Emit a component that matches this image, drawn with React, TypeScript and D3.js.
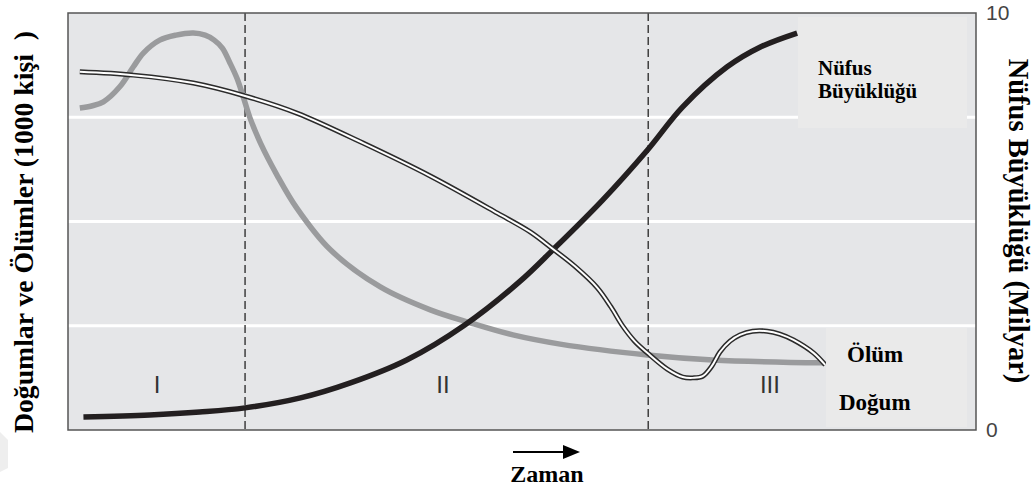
import React from 'react';
import * as d3 from 'd3';

// time runs 0..100 across the plot, values on the 0..10 right-hand scale
const deathPts: [number, number][] = [
  [1.3, 7.72], [2.6, 7.77], [3.9, 7.87], [5.7, 8.23], [7.2, 8.71], [8.3, 9.04],
  [10.1, 9.35], [11.9, 9.47], [13.8, 9.52], [15.1, 9.47], [16.1, 9.35], [17.0, 9.16],
  [17.8, 8.82], [18.6, 8.44], [19.3, 7.99], [20.0, 7.51], [21.2, 6.88], [23.0, 6.12],
  [25.2, 5.32], [28.9, 4.32], [34.4, 3.43], [39.9, 2.88], [44.3, 2.57], [49.0, 2.28],
  [54.2, 2.06], [63.8, 1.80], [71.0, 1.68], [83.2, 1.61],
];

const birthPts: [number, number][] = [
  [1.3, 8.59], [7.2, 8.51], [13.8, 8.32], [19.5, 8.01], [25.2, 7.60], [32.5, 6.88],
  [39.9, 6.09], [47.3, 5.20], [50.9, 4.75], [53.4, 4.34], [55.8, 3.93], [58.3, 3.41],
  [59.8, 2.95], [61.1, 2.49], [62.4, 2.13], [63.8, 1.85], [66.0, 1.46], [67.7, 1.27],
  [68.8, 1.25], [69.9, 1.29], [70.9, 1.53], [71.8, 1.87], [72.9, 2.13], [74.0, 2.28],
  [75.4, 2.37], [77.0, 2.37], [78.4, 2.30], [79.9, 2.16], [82.1, 1.85], [83.4, 1.56],
];

const populationPts: [number, number][] = [
  [1.7, 0.31], [9.0, 0.36], [14.5, 0.43], [19.5, 0.53], [25.6, 0.77], [31.1, 1.13],
  [37.3, 1.68], [43.7, 2.52], [49.8, 3.57], [53.4, 4.32], [58.9, 5.52], [63.8, 6.71],
  [67.7, 7.75], [72.6, 8.71], [76.2, 9.18], [80.3, 9.52],
];

const phaseBreaks = [19.5, 63.9];
const phaseLabels = ['I', 'II', 'III'];
const phaseCenters = [9.8, 41.3, 77.3];
const gridValues = [2.5, 5, 7.5];
const rightTicks = [0, 10];

const W = 1036;
const H = 492;
const box = { left: 68, top: 13, right: 976, bottom: 430 };
const serif = '"Liberation Serif", "Times New Roman", serif';
const sans = '"Liberation Sans", Arial, sans-serif';

const App: React.FC = () => {
  const x = d3.scaleLinear().domain([0, 100]).range([box.left, box.right]);
  const y = d3.scaleLinear().domain([0, 10]).range([box.bottom, box.top]);
  const line = d3.line<[number, number]>()
    .x(d => x(d[0]))
    .y(d => y(d[1]))
    .curve(d3.curveCatmullRom.alpha(0.5));

  return (
    <svg width={W} height={H} style={{ position: 'absolute', left: 0, top: 0, display: 'block' }}>
      <rect x={0} y={0} width={W} height={H} fill="#fff" />
      <path d="M0,432 L8,440 L8,468 L0,472 Z" fill="#eeeeee" />

      <rect x={box.left} y={box.top} width={box.right - box.left} height={box.bottom - box.top} fill="#e5e6e8" />
      {gridValues.map(v => (
        <line key={v} x1={box.left} x2={box.right} y1={y(v)} y2={y(v)} stroke="#fff" strokeWidth={3} />
      ))}
      {phaseBreaks.map(t => (
        <line key={t} x1={x(t)} x2={x(t)} y1={box.top} y2={box.bottom}
          stroke="#333" strokeWidth={1.4} strokeDasharray="8,4" />
      ))}

      <path d={line(deathPts) ?? ''} fill="none" stroke="#9a9b9d" strokeWidth={5.5} strokeLinecap="butt" />
      <path d={line(populationPts) ?? ''} fill="none" stroke="#231f20" strokeWidth={5.5} strokeLinecap="butt" />
      <path d={line(birthPts) ?? ''} fill="none" stroke="#2b2b2b" strokeWidth={5} strokeLinecap="butt" />
      <path d={line(birthPts) ?? ''} fill="none" stroke="#fff" strokeWidth={2} strokeLinecap="butt" />

      {/* label panels */}
      <rect x={798} y={17} width={169} height={111} fill="#eaeaea" />
      <rect x={826} y={328} width={141} height={99} fill="#eaeaea" />

      <rect x={box.left} y={box.top} width={box.right - box.left} height={box.bottom - box.top}
        fill="none" stroke="#555" strokeWidth={1.5} />

      {phaseLabels.map((p, i) => (
        <text key={p} x={x(phaseCenters[i])} y={y(0.89)} textAnchor="middle"
          fontFamily={sans} fontSize={24} fill="#333">{p}</text>
      ))}

      <g fontFamily={serif} fontWeight="bold" fill="#000">
        <text x={818} y={75} fontSize={21}>Nüfus</text>
        <text x={818} y={98} fontSize={21}>Büyüklüğü</text>
        <text x={847} y={362} fontSize={23}>Ölüm</text>
        <text x={839} y={410} fontSize={23}>Doğum</text>
        <text transform="translate(33,232) rotate(-90)" textAnchor="middle" fontSize={27.7}>
          Doğumlar ve Ölümler (1000 kişi{'\u00a0\u00a0'})
        </text>
        <text transform="translate(1009,221) rotate(90)" textAnchor="middle" fontSize={28.5}>
          Nüfus Büyüklüğü (Milyar)
        </text>
        <text x={547} y={482} textAnchor="middle" fontSize={24}>Zaman</text>
      </g>

      {rightTicks.map(v => (
        <text key={v} x={986} y={y(v)} dy="0.35em" fontFamily={sans} fontSize={21} fill="#444">{v}</text>
      ))}

      <line x1={513} x2={566} y1={452} y2={452} stroke="#000" strokeWidth={2} />
      <path d="M580,452 L563,445 L563,459 Z" fill="#000" />
    </svg>
  );
};

export default App;
